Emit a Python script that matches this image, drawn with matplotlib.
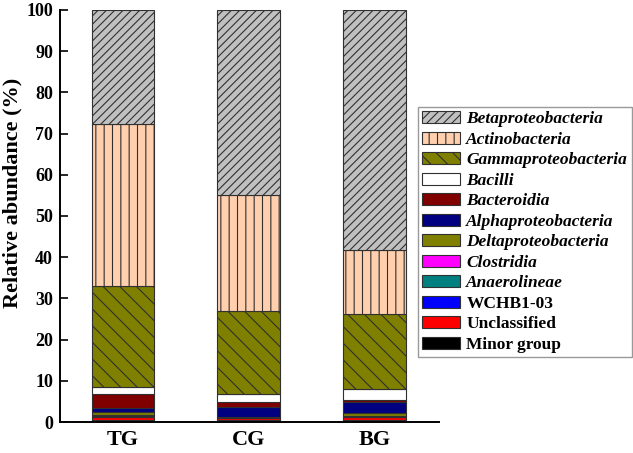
import matplotlib.pyplot as plt
import numpy as np

plt.rcParams['font.family'] = 'Liberation Serif'
plt.rcParams['font.weight'] = 'bold'
plt.rcParams['hatch.linewidth'] = 0.8

groups = ['TG', 'CG', 'BG']

# stacked from bottom to top
taxa = ['Minor group', 'Unclassified', 'WCHB1-03', 'Anaerolineae', 'Clostridia',
        'Deltaproteobacteria', 'Alphaproteobacteria', 'Bacteroidia', 'Bacilli',
        'Gammaproteobacteria', 'Actinobacteria', 'Betaproteobacteria']

minor = [0.6, 0.5, 0.6]
unclassified = [0.6, 0.4, 0.6]
wchb = [0.2, 0.1, 0.1]
anaero = [0.2, 0.1, 0.1]
clostridia = [0.2, 0.1, 0.1]
delta = [0.7, 0.1, 0.8]
alpha = [1.0, 2.4, 2.6]
bacteroidia = [3.2, 1.1, 0.4]
bacilli = [1.7, 1.9, 2.7]
gamma = [24.6, 20.2, 18.2]
actino = [39.3, 28.3, 15.5]
beta = [27.7, 44.8, 58.3]

values = [minor, unclassified, wchb, anaero, clostridia, delta, alpha,
          bacteroidia, bacilli, gamma, actino, beta]

colors = ['#000000', '#FF0000', '#0000FF', '#008080', '#FF00FF', '#808000',
          '#000080', '#800000', '#FFFFFF', '#808000', '#FFCFAE', '#C0C0C0']
hatches = [None] * 9 + ['\\\\', '||', '////']
italic = [False, False, False, True, True, True, True, True, True, True, True, True]

fig = plt.figure(figsize=(6.33, 4.53), dpi=100)
ax = fig.add_axes([0.0948, 0.0684, 0.599, 0.9096])

x = np.arange(len(groups))
bottom = np.zeros(len(groups))
handles = []
for name, v, c, h in zip(taxa, values, colors, hatches):
    b = ax.bar(x, v, 0.5, bottom=bottom, color=c, edgecolor='#303030',
               linewidth=0.8, hatch=h, label=name)
    bottom += np.array(v)
    handles.append(b)

ax.set_xlim(-0.5, 2.51)
ax.set_ylim(0, 100)
ax.set_yticks(np.arange(0, 101, 10))
ax.set_xticks(x)
ax.set_xticklabels(groups, fontsize=16, fontweight='bold')
ax.tick_params(axis='y', direction='in', length=6, width=1.2, labelsize=13, pad=5)
ax.tick_params(axis='x', length=0, pad=6)
ax.spines['top'].set_visible(False)
ax.spines['right'].set_visible(False)
ax.spines['left'].set_linewidth(1.4)
ax.spines['bottom'].set_linewidth(1.4)
ax.set_ylabel('Relative abundance (%)', fontsize=16, fontweight='bold')
ax.yaxis.set_label_coords(-0.098, 0.557)

leg = fig.legend(handles[::-1], taxa[::-1], loc='upper left',
                 bbox_to_anchor=(0.660, 0.764), frameon=True, fancybox=False,
                 edgecolor='#808080', fontsize=12.5, handlelength=2.2,
                 handleheight=0.7, labelspacing=0.25, borderpad=0.25,
                 handletextpad=0.35, borderaxespad=0)
leg.get_frame().set_linewidth(1.0)
for t, it in zip(leg.get_texts(), italic[::-1]):
    t.set_fontweight('bold')
    if it:
        t.set_fontstyle('italic')

plt.savefig('out.png', dpi=100)
